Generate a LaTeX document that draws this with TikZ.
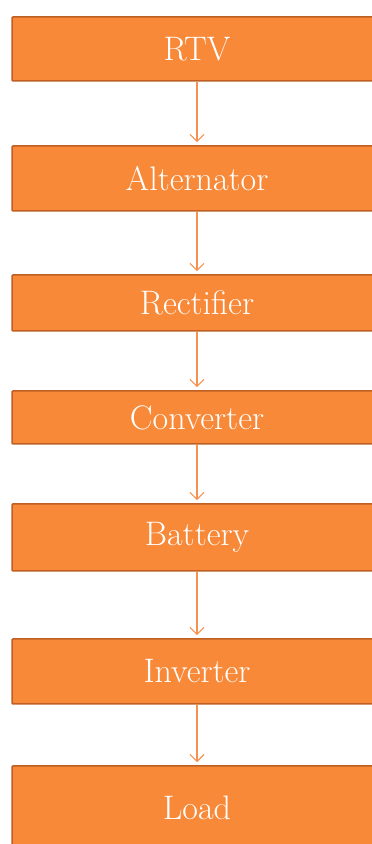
\documentclass[tikz,border=0pt]{standalone}
\usetikzlibrary{arrows.meta}
\definecolor{boxfill}{RGB}{247,137,56}
\definecolor{boxline}{RGB}{190,96,36}
\definecolor{arrowc}{RGB}{246,145,80}
\begin{document}
\begin{tikzpicture}[x=1pt,y=1pt,
  box/.style={draw=boxline, line width=1.5pt, fill=boxfill, rounded corners=1pt,
    minimum width=370pt, inner sep=0pt, text=white,
    font=\fontsize{34}{40}\selectfont},
  flow/.style={draw=arrowc, line width=1.1pt, -{Straight Barb[length=7pt,width=14pt]}, shorten >=3pt}]
\useasboundingbox (0,0) rectangle (372,844);
\clip (0,0) rectangle (372,844);
\node[box, minimum height=64pt] (rtv) at (197,795) {RTV};
\node[box, minimum height=65pt] (alt) at (197,665.5) {Alternator};
\node[box, minimum height=56pt] (rec) at (197,541) {Rectifier};
\node[box, minimum height=53pt] (con) at (197,426.5) {Converter};
\node[box, minimum height=67pt] (bat) at (197,306.5) {Battery};
\node[box, minimum height=65pt] (inv) at (197,172.5) {Inverter};
\node[box, minimum height=84pt] (load) at (197,36) {Load};
\draw[flow] (rtv) -- (alt);
\draw[flow] (alt) -- (rec);
\draw[flow] (rec) -- (con);
\draw[flow] (con) -- (bat);
\draw[flow] (bat) -- (inv);
\draw[flow] (inv) -- (load);
\end{tikzpicture}
\end{document}
